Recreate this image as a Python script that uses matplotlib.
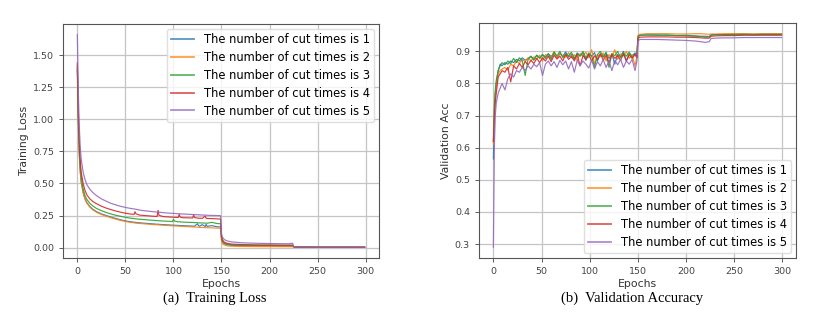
import matplotlib
matplotlib.use("Agg")
import matplotlib.pyplot as plt

labels = ["The number of cut times is %d" % k for k in range(1, 6)]
colors = ["#1f77b4", "#ff7f0e", "#2ca02c", "#d62728", "#9467bd"]

# training loss
loss_epochs = [0, 1, 2, 3, 4, 6, 8, 10, 13, 16, 20, 25, 30, 35, 40, 45, 50, 55, 59, 60,
               61, 65, 70, 75, 80, 83, 84, 85, 90, 95, 99, 100, 101, 105, 106, 107, 110, 115, 120, 121,
               122, 125, 126, 127, 130, 133, 134, 135, 140, 145, 149, 150, 151, 153, 156, 160, 170, 180, 190, 200,
               210, 220, 224, 225, 226, 230, 240, 250, 260, 270, 280, 290, 299]
loss_1 = [1.38, 0.97, 0.73, 0.59, 0.51, 0.43, 0.38, 0.35, 0.32, 0.30, 0.28, 0.263, 0.25, 0.238, 0.227, 0.217, 0.208, 0.202, 0.198, 0.197,
          0.196, 0.193, 0.190, 0.187, 0.184, 0.182, 0.183, 0.181, 0.179, 0.177, 0.175, 0.175, 0.174, 0.173, 0.172, 0.172, 0.171, 0.169, 0.168, 0.167,
          0.167, 0.186, 0.173, 0.166, 0.179, 0.165, 0.181, 0.166, 0.171, 0.163, 0.161, 0.075, 0.045, 0.030, 0.022, 0.018, 0.015, 0.014, 0.013, 0.013,
          0.012, 0.012, 0.012, 0.006, 0.005, 0.004, 0.004, 0.003, 0.003, 0.003, 0.003, 0.002, 0.002]
loss_2 = [1.40, 0.98, 0.74, 0.60, 0.52, 0.43, 0.375, 0.345, 0.315, 0.295, 0.275, 0.258, 0.245, 0.233, 0.222, 0.212, 0.203, 0.197, 0.193, 0.192,
          0.191, 0.188, 0.185, 0.182, 0.179, 0.178, 0.178, 0.177, 0.174, 0.172, 0.170, 0.170, 0.169, 0.168, 0.167, 0.167, 0.165, 0.163, 0.161, 0.161,
          0.160, 0.159, 0.159, 0.158, 0.157, 0.156, 0.156, 0.155, 0.154, 0.152, 0.151, 0.055, 0.030, 0.020, 0.014, 0.011, 0.009, 0.008, 0.008, 0.008,
          0.007, 0.007, 0.007, 0.004, 0.003, 0.003, 0.003, 0.002, 0.002, 0.002, 0.002, 0.002, 0.002]
loss_3 = [1.42, 1.02, 0.78, 0.63, 0.55, 0.46, 0.405, 0.375, 0.345, 0.325, 0.305, 0.288, 0.274, 0.262, 0.252, 0.244, 0.236, 0.230, 0.226, 0.225,
          0.224, 0.221, 0.218, 0.215, 0.212, 0.210, 0.210, 0.209, 0.207, 0.205, 0.203, 0.220, 0.207, 0.201, 0.201, 0.200, 0.199, 0.197, 0.196, 0.195,
          0.195, 0.194, 0.193, 0.193, 0.192, 0.191, 0.191, 0.190, 0.197, 0.188, 0.186, 0.080, 0.050, 0.035, 0.027, 0.022, 0.019, 0.018, 0.017, 0.017,
          0.016, 0.016, 0.016, 0.007, 0.005, 0.004, 0.004, 0.003, 0.003, 0.003, 0.003, 0.003, 0.003]
loss_4 = [1.44, 1.07, 0.83, 0.68, 0.59, 0.50, 0.445, 0.41, 0.38, 0.36, 0.342, 0.323, 0.308, 0.296, 0.285, 0.276, 0.268, 0.262, 0.259, 0.28,
          0.263, 0.253, 0.250, 0.247, 0.244, 0.243, 0.29, 0.251, 0.241, 0.239, 0.237, 0.237, 0.236, 0.235, 0.26, 0.237, 0.233, 0.232, 0.231, 0.255,
          0.234, 0.230, 0.229, 0.229, 0.228, 0.245, 0.229, 0.227, 0.226, 0.224, 0.222, 0.090, 0.060, 0.042, 0.033, 0.028, 0.024, 0.022, 0.021, 0.021,
          0.020, 0.020, 0.020, 0.008, 0.006, 0.005, 0.005, 0.004, 0.004, 0.004, 0.004, 0.004, 0.004]
loss_5 = [1.66, 1.22, 0.95, 0.79, 0.69, 0.59, 0.53, 0.49, 0.455, 0.43, 0.405, 0.38, 0.362, 0.345, 0.333, 0.322, 0.313, 0.306, 0.301, 0.300,
          0.299, 0.292, 0.287, 0.283, 0.279, 0.277, 0.277, 0.276, 0.272, 0.269, 0.267, 0.267, 0.266, 0.264, 0.264, 0.263, 0.262, 0.260, 0.258, 0.258,
          0.257, 0.256, 0.256, 0.255, 0.254, 0.253, 0.253, 0.252, 0.251, 0.250, 0.249, 0.110, 0.080, 0.062, 0.052, 0.045, 0.038, 0.035, 0.033, 0.032,
          0.031, 0.030, 0.034, 0.010, 0.007, 0.006, 0.006, 0.005, 0.005, 0.005, 0.005, 0.005, 0.005]

# validation accuracy
acc_epochs = [0, 1, 2, 3, 5, 7,
              9, 12, 15, 18, 21, 24, 27, 30, 33, 36, 39, 42, 45, 48, 51, 54, 57, 60, 63, 66, 69, 72, 75, 78,
              81, 84, 87, 90, 93, 96, 99, 102, 105, 108, 111, 114, 117, 120, 123, 126, 129, 132, 135, 138, 141, 144, 147,
              149, 150, 152, 160, 170, 180, 190, 200, 210, 215, 220, 224, 226, 230, 240, 250, 260, 270, 280, 290, 299]
acc_1 = [0.565, 0.70, 0.77, 0.80, 0.84, 0.86,
         0.855, 0.865, 0.86, 0.87, 0.865, 0.875, 0.87, 0.88, 0.872, 0.878, 0.885, 0.875, 0.888, 0.88, 0.89, 0.878, 0.892, 0.884, 0.895, 0.88, 0.893, 0.885, 0.898, 0.882,
         0.89, 0.875, 0.895, 0.886, 0.894, 0.872, 0.892, 0.885, 0.896, 0.87, 0.89, 0.883, 0.895, 0.878, 0.892, 0.86, 0.89, 0.884, 0.90, 0.87, 0.893, 0.886, 0.895,
         0.89, 0.945, 0.95, 0.951, 0.95, 0.951, 0.949, 0.95, 0.948, 0.947, 0.947, 0.946, 0.951, 0.952, 0.952, 0.952, 0.953, 0.952, 0.953, 0.953, 0.953]
acc_2 = [0.61, 0.72, 0.76, 0.79, 0.83, 0.84,
         0.845, 0.85, 0.842, 0.86, 0.855, 0.87, 0.862, 0.875, 0.868, 0.88, 0.87, 0.883, 0.876, 0.888, 0.87, 0.89, 0.885, 0.88, 0.90, 0.878, 0.892, 0.887, 0.882, 0.896,
         0.88, 0.89, 0.872, 0.893, 0.885, 0.897, 0.88, 0.905, 0.86, 0.89, 0.883, 0.895, 0.87, 0.89, 0.882, 0.905, 0.875, 0.892, 0.886, 0.90, 0.878, 0.89, 0.855,
         0.885, 0.95, 0.953, 0.955, 0.955, 0.955, 0.954, 0.954, 0.955, 0.955, 0.954, 0.953, 0.954, 0.954, 0.955, 0.955, 0.955, 0.954, 0.955, 0.955, 0.955]
acc_3 = [0.62, 0.73, 0.78, 0.81, 0.84, 0.855,
         0.865, 0.858, 0.87, 0.862, 0.878, 0.865, 0.88, 0.87, 0.825, 0.875, 0.884, 0.872, 0.888, 0.878, 0.89, 0.882, 0.893, 0.875, 0.898, 0.886, 0.90, 0.88, 0.892, 0.886,
         0.897, 0.878, 0.893, 0.885, 0.90, 0.88, 0.895, 0.886, 0.85, 0.89, 0.90, 0.882, 0.897, 0.85, 0.893, 0.886, 0.90, 0.88, 0.895, 0.885, 0.898, 0.88, 0.893,
         0.88, 0.945, 0.95, 0.951, 0.951, 0.95, 0.949, 0.948, 0.947, 0.946, 0.944, 0.945, 0.951, 0.952, 0.952, 0.953, 0.953, 0.953, 0.953, 0.953, 0.953]
acc_4 = [0.62, 0.69, 0.74, 0.77, 0.82, 0.83,
         0.84, 0.835, 0.85, 0.805, 0.855, 0.845, 0.862, 0.85, 0.868, 0.858, 0.872, 0.862, 0.878, 0.865, 0.88, 0.87, 0.885, 0.868, 0.888, 0.876, 0.885, 0.87, 0.89, 0.875,
         0.884, 0.87, 0.89, 0.855, 0.887, 0.875, 0.89, 0.87, 0.886, 0.875, 0.893, 0.872, 0.888, 0.865, 0.89, 0.878, 0.887, 0.872, 0.892, 0.87, 0.889, 0.878, 0.89,
         0.88, 0.94, 0.944, 0.945, 0.945, 0.945, 0.944, 0.944, 0.943, 0.942, 0.941, 0.941, 0.947, 0.948, 0.949, 0.949, 0.95, 0.95, 0.95, 0.95, 0.95]
acc_5 = [0.29, 0.60, 0.70, 0.74, 0.77, 0.785,
         0.80, 0.78, 0.815, 0.83, 0.82, 0.84, 0.835, 0.85, 0.84, 0.855, 0.845, 0.86, 0.852, 0.865, 0.825, 0.86, 0.87, 0.855, 0.868, 0.85, 0.872, 0.858, 0.87, 0.845,
         0.868, 0.835, 0.872, 0.855, 0.87, 0.86, 0.848, 0.873, 0.845, 0.868, 0.855, 0.874, 0.85, 0.87, 0.84, 0.872, 0.858, 0.875, 0.85, 0.87, 0.86, 0.875, 0.84,
         0.87, 0.932, 0.937, 0.937, 0.937, 0.936, 0.935, 0.934, 0.932, 0.93, 0.928, 0.93, 0.94, 0.941, 0.942, 0.942, 0.943, 0.943, 0.943, 0.943, 0.943]

losses = [loss_1, loss_2, loss_3, loss_4, loss_5]
accs = [acc_1, acc_2, acc_3, acc_4, acc_5]


def style(ax, ylabel):
    ax.grid(True, color="#c4c4c4", linewidth=0.9)
    ax.set_axisbelow(True)
    ax.set_xlabel("Epochs", fontsize=7.8, color="#333333", labelpad=2)
    ax.set_ylabel(ylabel, fontsize=7.8, color="#333333", labelpad=3)
    ax.tick_params(labelsize=6.8, colors="#444444", length=3, width=0.6)
    ax.set_xticks([0, 50, 100, 150, 200, 250, 300])
    for s in ax.spines.values():
        s.set_color("#555555")
        s.set_linewidth(0.8)


def add_legend(ax, loc):
    leg = ax.legend(loc=loc, fontsize=8.3, borderaxespad=0.4, handlelength=2.0,
                    labelspacing=0.42, edgecolor="#d8d8d8", borderpad=0.4)
    for ln in leg.get_lines():
        ln.set_linewidth(1.3)
        ln.set_alpha(0.75)


fig = plt.figure(figsize=(8.21, 3.18), dpi=100)
ax1 = fig.add_axes([0.0767, 0.1887, 0.385, 0.736])
ax2 = fig.add_axes([0.5834, 0.1887, 0.386, 0.739])

for y, c, lab in zip(losses, colors, labels):
    ax1.plot(loss_epochs, y, color=c, linewidth=0.85, alpha=0.9, label=lab)
style(ax1, "Training Loss")
ax1.set_yticks([0.0, 0.25, 0.5, 0.75, 1.0, 1.25, 1.5])
ax1.yaxis.set_major_formatter(matplotlib.ticker.FormatStrFormatter("%.2f"))
add_legend(ax1, "upper right")

for y, c, lab in zip(accs, colors, labels):
    ax2.plot(acc_epochs, y, color=c, linewidth=0.85, alpha=0.9, label=lab)
style(ax2, "Validation Acc")
ax2.set_yticks([0.3, 0.4, 0.5, 0.6, 0.7, 0.8, 0.9])
add_legend(ax2, "lower right")

cap = dict(family="Liberation Serif", fontsize=10.5, ha="center", va="center")
fig.text(215 / 821, 1 - 298 / 318, "(a)  Training Loss", **cap)
fig.text(632 / 821, 1 - 298 / 318, "(b)  Validation Accuracy", **cap)

fig.savefig("out.png", dpi=100)
